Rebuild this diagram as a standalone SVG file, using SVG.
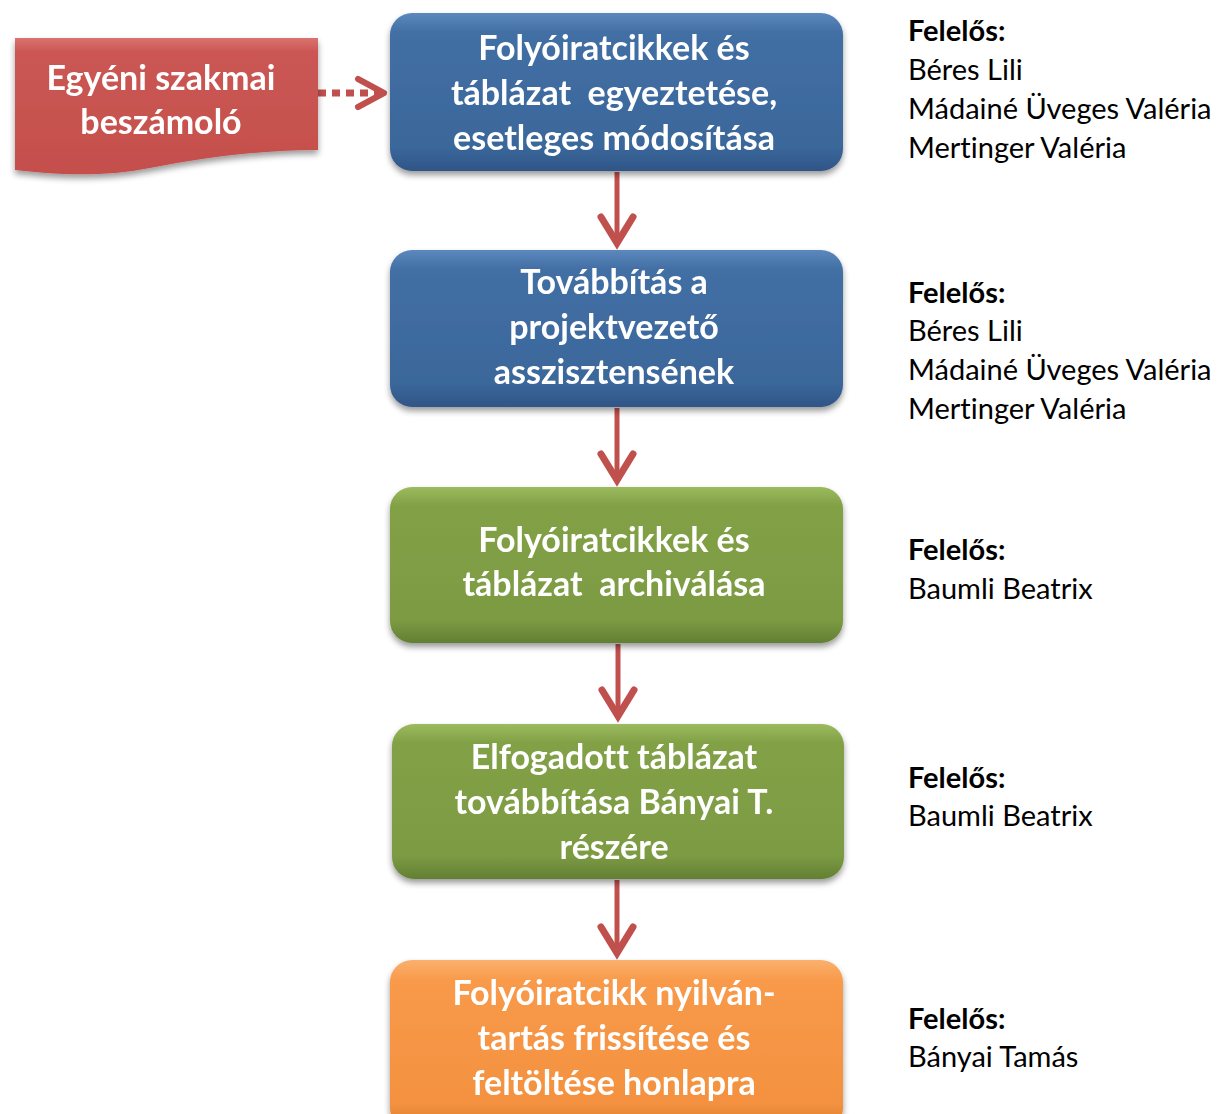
<svg xmlns="http://www.w3.org/2000/svg" width="1223" height="1114" viewBox="0 0 1223 1114">
<defs>
<style>
.bt{font-family:Lato,"Open Sans","Liberation Sans",sans-serif;font-weight:bold;font-size:34px;fill:#fff;text-anchor:middle;white-space:pre;font-variant-ligatures:none}
.rt{font-family:Lato,"Open Sans","Liberation Sans",sans-serif;font-size:29px;fill:#000;font-variant-ligatures:none}
.rb{font-weight:bold}
.conn{stroke:#C0504D;fill:none}
</style>
<linearGradient id="gBlue" x1="0" y1="0" x2="0" y2="1">
<stop offset="0" stop-color="#5C88BE"/><stop offset="0.12" stop-color="#426FA4"/><stop offset="0.85" stop-color="#3B679B"/><stop offset="1" stop-color="#2F5586"/>
</linearGradient>
<linearGradient id="gGreen" x1="0" y1="0" x2="0" y2="1">
<stop offset="0" stop-color="#9CBA5E"/><stop offset="0.12" stop-color="#82A146"/><stop offset="0.85" stop-color="#7C9B43"/><stop offset="1" stop-color="#637F33"/>
</linearGradient>
<linearGradient id="gOrange" x1="0" y1="0" x2="0" y2="1">
<stop offset="0" stop-color="#FBB06E"/><stop offset="0.12" stop-color="#F89A4A"/><stop offset="0.85" stop-color="#F3913F"/><stop offset="1" stop-color="#D97A2C"/>
</linearGradient>
<linearGradient id="gRed" x1="0" y1="0" x2="0" y2="1">
<stop offset="0" stop-color="#DA7370"/><stop offset="0.1" stop-color="#CB5754"/><stop offset="1" stop-color="#C44F4C"/>
</linearGradient>
<filter id="sh" x="-10%" y="-10%" width="120%" height="130%">
<feGaussianBlur in="SourceAlpha" stdDeviation="3"/>
<feOffset dy="4" result="b"/>
<feComponentTransfer><feFuncA type="linear" slope="0.4"/></feComponentTransfer>
<feMerge><feMergeNode/><feMergeNode in="SourceGraphic"/></feMerge>
</filter>
</defs>
<rect width="1223" height="1114" fill="#fff"/>

<g id="connectors">
<line class="conn" x1="318" y1="93" x2="380" y2="93" stroke-width="7" stroke-dasharray="8,6"/>
<polyline class="conn" points="358,79 384,93 358,107" stroke-width="6" stroke-linecap="round" stroke-linejoin="round"/>
<g stroke-width="5">
<line class="conn" x1="617" y1="172" x2="617" y2="243"/>
<line class="conn" x1="617" y1="408" x2="617" y2="480"/>
<line class="conn" x1="618" y1="644" x2="618" y2="716"/>
<line class="conn" x1="617" y1="880" x2="617" y2="953"/>
</g>
<g stroke-width="7" stroke-linecap="round">
<polyline class="conn" points="601,217 617,243 633,217"/>
<polyline class="conn" points="601,454 617,480 633,454"/>
<polyline class="conn" points="602,690 618,716 634,690"/>
<polyline class="conn" points="601,927 617,953 633,927"/>
</g>
</g>

<g id="node-red" filter="url(#sh)">
<path d="M15,38 H318 V150 C260,150 200,158 150,168 C100,178 50,174 15,170 Z" fill="url(#gRed)"/>
<text class="bt" x="161" y="90">Egyéni szakmai</text>
<text class="bt" x="161" y="134">beszámoló</text>
</g>

<g id="node-1" filter="url(#sh)">
<rect x="390" y="13" width="453" height="158" rx="22" fill="url(#gBlue)"/>
<text class="bt" x="614" y="60">Folyóiratcikkek és</text>
<text class="bt" x="614" y="105">táblázat  egyeztetése,</text>
<text class="bt" x="614" y="150">esetleges módosítása</text>
</g>

<g id="node-2" filter="url(#sh)">
<rect x="390" y="250" width="453" height="157" rx="22" fill="url(#gBlue)"/>
<text class="bt" x="614" y="294">Továbbítás a</text>
<text class="bt" x="614" y="339">projektvezető</text>
<text class="bt" x="614" y="384">asszisztensének</text>
</g>

<g id="node-3" filter="url(#sh)">
<rect x="390" y="487" width="453" height="156" rx="22" fill="url(#gGreen)"/>
<text class="bt" x="614" y="552">Folyóiratcikkek és</text>
<text class="bt" x="614" y="596">táblázat  archiválása</text>
</g>

<g id="node-4" filter="url(#sh)">
<rect x="392" y="724" width="452" height="155" rx="22" fill="url(#gGreen)"/>
<text class="bt" x="614" y="769">Elfogadott táblázat</text>
<text class="bt" x="614" y="814">továbbítása Bányai T.</text>
<text class="bt" x="614" y="859">részére</text>
</g>

<g id="node-5" filter="url(#sh)">
<rect x="390" y="960" width="453" height="170" rx="22" fill="url(#gOrange)"/>
<text class="bt" x="614" y="1005">Folyóiratcikk nyilván-</text>
<text class="bt" x="614" y="1050">tartás frissítése és</text>
<text class="bt" x="614" y="1095">feltöltése honlapra</text>
</g>

<g id="resp-1">
<text class="rt rb" x="908" y="41">Felelős:</text>
<text class="rt" x="908" y="80">Béres Lili</text>
<text class="rt" x="908" y="119">Mádainé Üveges Valéria</text>
<text class="rt" x="908" y="158">Mertinger Valéria</text>
</g>
<g id="resp-2">
<text class="rt rb" x="908" y="303">Felelős:</text>
<text class="rt" x="908" y="341">Béres Lili</text>
<text class="rt" x="908" y="380">Mádainé Üveges Valéria</text>
<text class="rt" x="908" y="419">Mertinger Valéria</text>
</g>
<g id="resp-3">
<text class="rt rb" x="908" y="560">Felelős:</text>
<text class="rt" x="908" y="599">Baumli Beatrix</text>
</g>
<g id="resp-4">
<text class="rt rb" x="908" y="788">Felelős:</text>
<text class="rt" x="908" y="826">Baumli Beatrix</text>
</g>
<g id="resp-5">
<text class="rt rb" x="908" y="1029">Felelős:</text>
<text class="rt" x="908" y="1067">Bányai Tamás</text>
</g>
</svg>
